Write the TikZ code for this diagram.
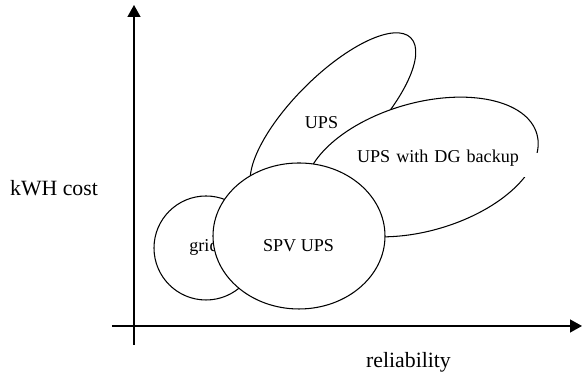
\documentclass[tikz,border=0pt]{standalone}
\usepackage{fontspec}
\setmainfont{Liberation Serif}
\usetikzlibrary{arrows.meta}

\begin{document}
\begin{tikzpicture}[x=0.02cm, y=0.02cm,
    axis/.style={line width=0.8pt, -{Triangle[length=0.24cm, width=0.26cm]}},
    blob/.style={draw, fill=white, line width=0.6pt},
    axislabel/.style={font=\fontsize{12.4}{14}\selectfont, anchor=base},
    blobtext/.style={font=\fontsize{10.3}{12}\selectfont, anchor=base}]

    \useasboundingbox (0,0) rectangle (583,377);

    % Define the ends of the axes
    \coordinate (Ybot) at (134,32);
    \coordinate (Ytop) at (134,372);
    \coordinate (Xleft) at (112,51);
    \coordinate (Xright) at (582,51);

    % Define the centers of the regions
    \coordinate (G) at (206,129);
    \coordinate (S) at (299,141);
    \coordinate (U) at (333,261.4);
    \coordinate (D) at (421.5,210);

    % Draw the axes
    \draw[axis] (Ybot) -- (Ytop);
    \draw[axis] (Xleft) -- (Xright);

    % Draw the regions, back to front
    \draw[blob, rotate around={45:(U)}] (U) ellipse [x radius=110, y radius=40];
    \node[blobtext] (ups) at (321.5,248) {UPS};

    \draw[blob] (G) circle (52);
    \node[blobtext] (grid) at (204,125) {grid};

    \draw[blob, rotate around={16:(D)}] (D) ellipse [x radius=120, y radius=64];
    \node[blobtext, fill=white, inner sep=0pt, text width=4cm, align=center,
          text height=0.2cm, text depth=0.28cm] (dg) at (438,214) {UPS with DG backup};

    \draw[blob] (S) ellipse [x radius=86, y radius=73];
    \node[blobtext] (spv) at (298.5,125) {SPV UPS};

    % Add labels for the axes
    \node[axislabel] (cost) at (54,181) {kWH cost};
    \node[axislabel] (rel) at (408.5,9) {reliability};

\end{tikzpicture}
\end{document}
